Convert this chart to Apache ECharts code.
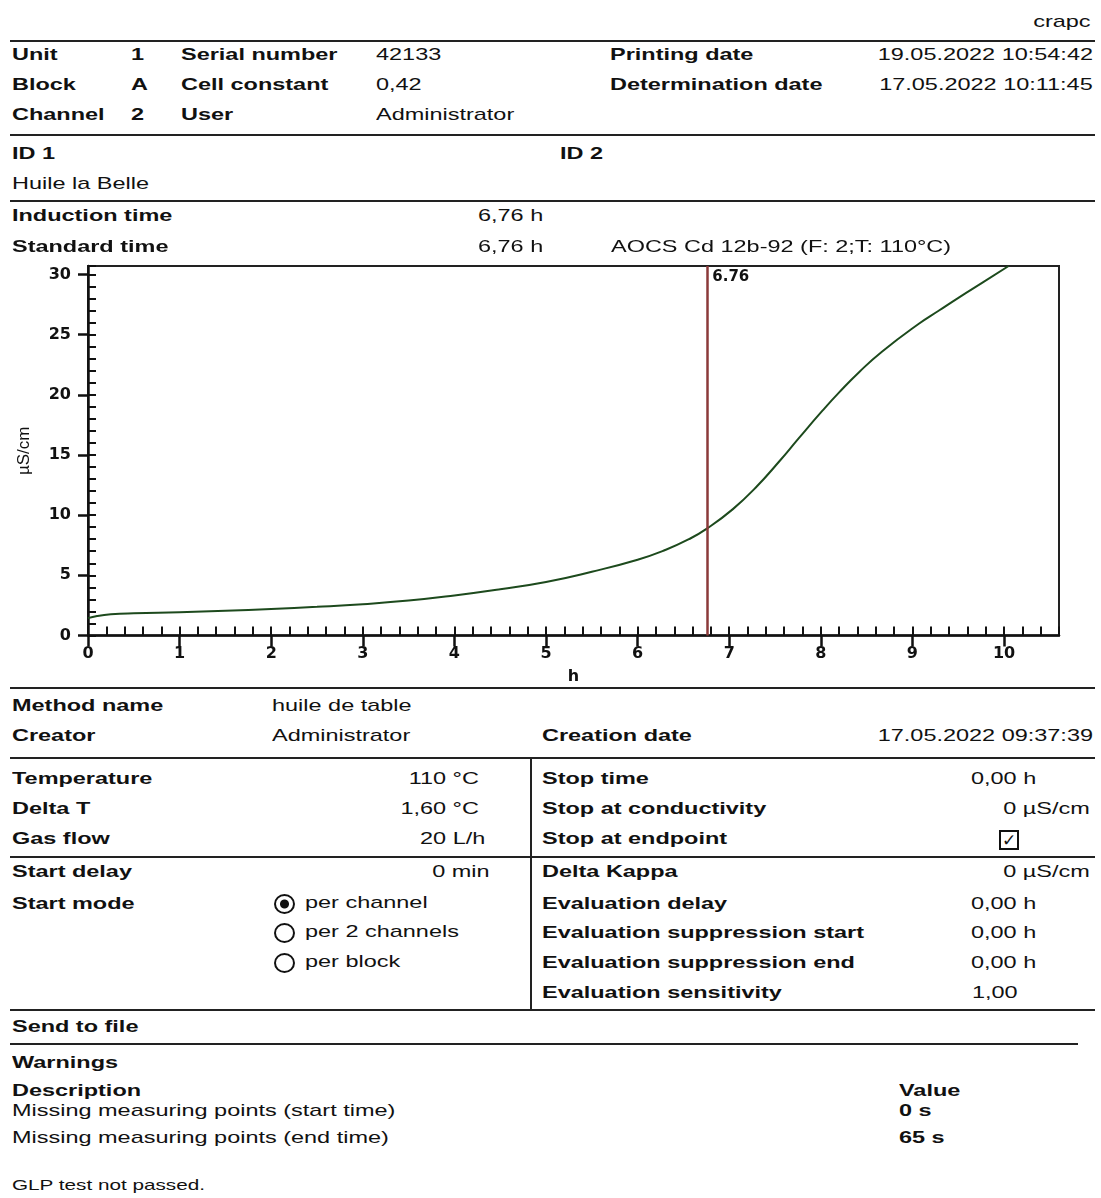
<!DOCTYPE html>
<html>
<head>
<meta charset="utf-8">
<script src="https://cdn.jsdelivr.net/npm/echarts@6/dist/echarts.min.js"></script>
<style>
body {
  margin: 0;
  background: #fff;
  width: 1101px;
  height: 1198px;
  position: relative;
  overflow: hidden;
  font-family: 'Liberation Sans', Arial, sans-serif;
  color: #111;
}
.t {
  position: absolute;
  font-size: 17px;
  line-height: 20px;
  white-space: nowrap;
  transform: scaleX(1.38);
  transform-origin: 0 50%;
  z-index: 2;
}
.b { font-weight: bold; }
.r { transform-origin: 100% 50%; }
.hr {
  position: absolute;
  left: 10px;
  width: 1085px;
  height: 2px;
  background: #222;
  z-index: 2;
}
.vr {
  position: absolute;
  width: 2px;
  background: #222;
}
.radio {
  position: absolute;
  left: 274px;
  width: 17px;
  height: 16px;
  border: 2px solid #111;
  border-radius: 50%;
}
.radio.on { background: radial-gradient(circle, #111 0 4px, transparent 5px); }
.check {
  position: absolute;
  left: 999px;
  top: 830px;
  width: 16px;
  height: 16px;
  border: 2px solid #111;
  font: bold 17px 'DejaVu Sans', sans-serif;
  line-height: 16px;
  text-align: center;
}
#chart {
  position: absolute;
  left: 0;
  top: 250px;
  width: 1101px;
  height: 445px;
}
</style>
</head>
<body>
<div class="t r" style="right:10px;top:12px">crapc</div>
<div class="hr" style="top:40px"></div>

<div class="t b" style="left:12px;top:45px">Unit</div>
<div class="t b" style="left:131px;top:45px">1</div>
<div class="t b" style="left:181px;top:45px">Serial number</div>
<div class="t" style="left:376px;top:45px">42133</div>
<div class="t b" style="left:610px;top:45px">Printing date</div>
<div class="t r" style="right:8px;top:45px">19.05.2022 10:54:42</div>

<div class="t b" style="left:12px;top:75px">Block</div>
<div class="t b" style="left:131px;top:75px">A</div>
<div class="t b" style="left:181px;top:75px">Cell constant</div>
<div class="t" style="left:376px;top:75px">0,42</div>
<div class="t b" style="left:610px;top:75px">Determination date</div>
<div class="t r" style="right:8px;top:75px">17.05.2022 10:11:45</div>

<div class="t b" style="left:12px;top:105px">Channel</div>
<div class="t b" style="left:131px;top:105px">2</div>
<div class="t b" style="left:181px;top:105px">User</div>
<div class="t" style="left:376px;top:105px">Administrator</div>

<div class="hr" style="top:134px"></div>
<div class="t b" style="left:12px;top:144px">ID 1</div>
<div class="t b" style="left:560px;top:144px">ID 2</div>
<div class="t" style="left:12px;top:174px">Huile la Belle</div>

<div class="hr" style="top:200px"></div>
<div class="t b" style="left:12px;top:206px">Induction time</div>
<div class="t" style="left:478px;top:206px">6,76 h</div>
<div class="t b" style="left:12px;top:237px">Standard time</div>
<div class="t" style="left:478px;top:237px">6,76 h</div>
<div class="t" style="left:611px;top:237px">AOCS Cd 12b-92 (F: 2;T: 110°C)</div>

<div id="chart"></div>

<div class="hr" style="top:687px"></div>
<div class="t b" style="left:12px;top:696px">Method name</div>
<div class="t" style="left:272px;top:696px">huile de table</div>
<div class="t b" style="left:12px;top:726px">Creator</div>
<div class="t" style="left:272px;top:726px">Administrator</div>
<div class="t b" style="left:542px;top:726px">Creation date</div>
<div class="t r" style="right:8px;top:726px">17.05.2022 09:37:39</div>

<div class="hr" style="top:757px"></div>
<div class="vr" style="left:530px;top:757px;height:254px"></div>
<div class="t b" style="left:12px;top:769px">Temperature</div>
<div class="t r" style="right:622px;top:769px">110 °C</div>
<div class="t b" style="left:12px;top:799px">Delta T</div>
<div class="t r" style="right:622px;top:799px">1,60 °C</div>
<div class="t b" style="left:12px;top:829px">Gas flow</div>
<div class="t r" style="right:616px;top:829px">20 L/h</div>

<div class="t b" style="left:542px;top:769px">Stop time</div>
<div class="t" style="left:971px;top:769px">0,00 h</div>
<div class="t b" style="left:542px;top:799px">Stop at conductivity</div>
<div class="t r" style="right:11px;top:799px">0 µS/cm</div>
<div class="t b" style="left:542px;top:829px">Stop at endpoint</div>
<div class="check">✓</div>

<div class="hr" style="top:856px"></div>
<div class="t b" style="left:12px;top:862px">Start delay</div>
<div class="t r" style="right:611px;top:862px">0 min</div>
<div class="t b" style="left:12px;top:894px">Start mode</div>
<div class="radio on" style="top:894px"></div>
<div class="t" style="left:305px;top:893px">per channel</div>
<div class="radio" style="top:923px"></div>
<div class="t" style="left:305px;top:922px">per 2 channels</div>
<div class="radio" style="top:953px"></div>
<div class="t" style="left:305px;top:952px">per block</div>

<div class="t b" style="left:542px;top:862px">Delta Kappa</div>
<div class="t r" style="right:11px;top:862px">0 µS/cm</div>
<div class="t b" style="left:542px;top:894px">Evaluation delay</div>
<div class="t" style="left:971px;top:894px">0,00 h</div>
<div class="t b" style="left:542px;top:923px">Evaluation suppression start</div>
<div class="t" style="left:971px;top:923px">0,00 h</div>
<div class="t b" style="left:542px;top:953px">Evaluation suppression end</div>
<div class="t" style="left:971px;top:953px">0,00 h</div>
<div class="t b" style="left:542px;top:983px">Evaluation sensitivity</div>
<div class="t" style="left:972px;top:983px">1,00</div>

<div class="hr" style="top:1009px"></div>
<div class="t b" style="left:12px;top:1017px">Send to file</div>
<div class="hr" style="top:1043px;width:1068px"></div>
<div class="t b" style="left:12px;top:1053px">Warnings</div>
<div class="t b" style="left:12px;top:1081px">Description</div>
<div class="t b" style="left:899px;top:1081px">Value</div>
<div class="t" style="left:12px;top:1101px">Missing measuring points (start time)</div>
<div class="t b" style="left:899px;top:1101px">0 s</div>
<div class="t" style="left:12px;top:1128px">Missing measuring points (end time)</div>
<div class="t b" style="left:899px;top:1128px">65 s</div>
<div class="t" style="left:12px;top:1175px;font-size:15px">GLP test not passed.</div>

<script>
// conductivity curve (time in h, kappa in µS/cm)
var timeH = [0, 0.1, 0.25, 0.5, 1, 1.5, 2, 2.5, 3, 3.5, 4, 4.5, 5, 5.5, 6, 6.3, 6.56, 6.76,
  7.04, 7.29, 7.55, 7.76, 8.02, 8.2, 8.42, 8.67, 9.07, 9.29, 9.51, 9.76, 10.05];
var kappa = [1.44, 1.62, 1.76, 1.85, 1.94, 2.06, 2.2, 2.38, 2.6, 2.9, 3.33, 3.85, 4.45, 5.3, 6.3, 7.1, 8.0, 8.9,
  10.5, 12.3, 14.5, 16.4, 18.7, 20.2, 21.9, 23.6, 25.9, 27.0, 28.1, 29.3, 30.7];
var xTicks = [0, 1, 2, 3, 4, 5, 6, 7, 8, 9, 10];
var yTicks = [0, 5, 10, 15, 20, 25, 30];
var inductionTime = 6.76;
var xMax = 10.6;
var yMax = 30.7;

var chartDom = document.getElementById('chart');
var myChart = echarts.init(chartDom);

var data = [];
for (var i = 0; i < timeH.length; i++) {
  data.push([timeH[i], kappa[i]]);
}

var labelFont = {
  color: '#111',
  fontWeight: 'bold',
  fontSize: 16,
  fontFamily: 'DejaVu Sans'
};

var option = {
  animation: false,
  grid: {
    left: 88,
    right: 42,
    top: 16,
    bottom: 59.5,
    show: true,
    borderColor: '#222',
    borderWidth: 2
  },
  xAxis: [
    {
      type: 'value',
      min: 0,
      max: xMax,
      position: 'bottom',
      name: 'h',
      nameLocation: 'middle',
      nameGap: 33,
      nameTextStyle: labelFont,
      axisLine: { show: true, onZero: false, lineStyle: { color: '#111', width: 2.5 } },
      axisTick: { show: true, inside: false, length: 11, customValues: xTicks, lineStyle: { color: '#111', width: 2.5 } },
      axisLabel: Object.assign({ customValues: xTicks, margin: 10 }, labelFont),
      splitLine: { show: false }
    },
    {
      type: 'value',
      min: 0,
      max: xMax,
      interval: 0.2,
      position: 'bottom',
      axisLine: { show: false },
      axisTick: { show: true, inside: true, length: 9, lineStyle: { color: '#111', width: 2 } },
      axisLabel: { show: false },
      splitLine: { show: false }
    }
  ],
  yAxis: [
    {
      type: 'value',
      min: 0,
      max: yMax,
      position: 'left',
      name: 'µS/cm',
      nameLocation: 'middle',
      nameGap: 55,
      nameRotate: 90,
      nameTextStyle: { color: '#111', fontSize: 17, fontFamily: 'Liberation Sans' },
      axisLine: { show: true, onZero: false, lineStyle: { color: '#111', width: 2.5 } },
      axisTick: { show: true, inside: false, length: 10, customValues: yTicks, lineStyle: { color: '#111', width: 2.5 } },
      axisLabel: Object.assign({ customValues: yTicks, margin: 17 }, labelFont),
      splitLine: { show: false }
    },
    {
      type: 'value',
      min: 0,
      max: yMax,
      interval: 1,
      position: 'left',
      axisLine: { show: false },
      axisTick: { show: true, inside: true, length: 8, lineStyle: { color: '#111', width: 2 } },
      axisLabel: { show: false },
      splitLine: { show: false }
    }
  ],
  series: [
    {
      name: 'Conductivity',
      type: 'line',
      xAxisIndex: 0,
      yAxisIndex: 0,
      symbol: 'none',
      smooth: 0.5,
      data: data,
      lineStyle: { color: '#1d4a1d', width: 2 },
      markLine: {
        silent: true,
        symbol: 'none',
        label: { show: false },
        lineStyle: { color: '#8b3a3a', width: 2.5, type: 'solid' },
        data: [{ xAxis: inductionTime }]
      },
      markPoint: {
        silent: true,
        symbol: 'circle',
        symbolSize: 0,
        data: [{ coord: [inductionTime, yMax] }],
        label: {
          show: true,
          position: [5, 4],
          fontSize: 15,
          color: '#111',
          fontWeight: 'bold',
          fontFamily: 'DejaVu Sans',
          formatter: function () { return inductionTime.toFixed(2); }
        }
      }
    }
  ]
};

option && myChart.setOption(option);
</script>
</body>
</html>
